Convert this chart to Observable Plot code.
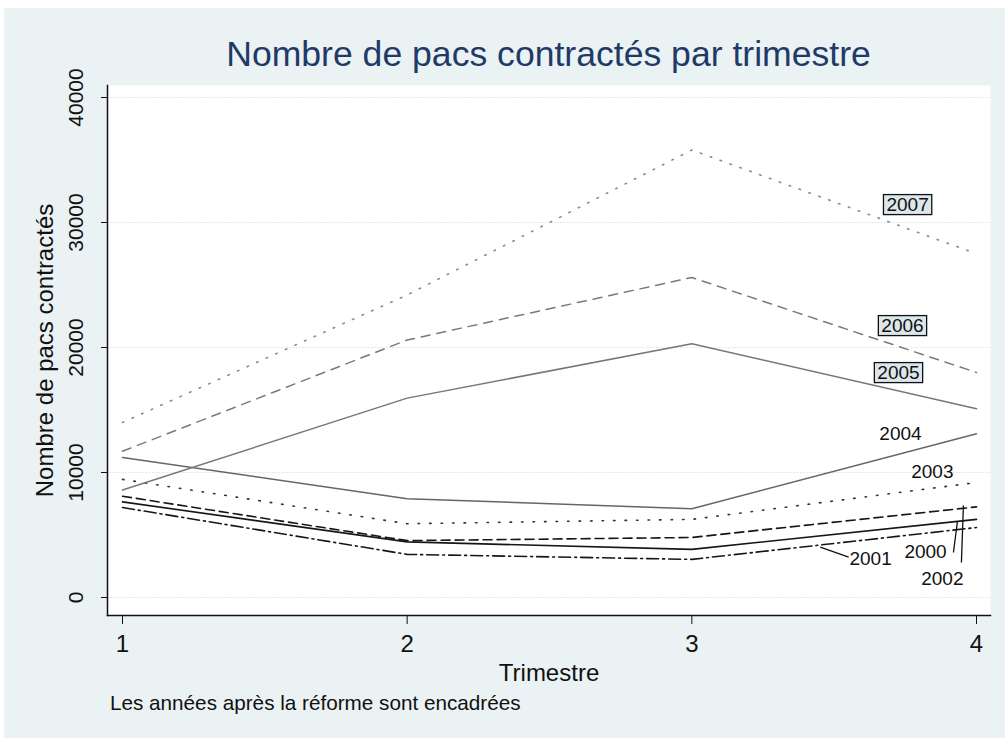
<!DOCTYPE html>
<html><head><meta charset="utf-8">
<script src="https://cdn.jsdelivr.net/npm/d3@7"></script>
<script src="https://cdn.jsdelivr.net/npm/@observablehq/plot@0.6"></script>
<style>
html,body{margin:0;padding:0;background:#fff;width:1005px;height:738px;overflow:hidden;font-family:"Liberation Sans",Arial,sans-serif;}
#bg{position:absolute;left:4px;top:8px;width:1001px;height:730px;background:#EAF2F3;}
#title{position:absolute;left:107px;top:37px;width:883px;text-align:center;font-size:35.6px;line-height:35px;color:#1F3A68;white-space:nowrap;}
#chart{position:absolute;left:0;top:68px;}
#caption{position:absolute;left:110px;top:691px;font-size:20.7px;line-height:24px;color:#111;white-space:nowrap;}
</style></head>
<body>
<div id="bg"></div>
<div id="title">Nombre de pacs contractés par trimestre</div>
<div id="chart"></div>
<div id="caption">Les années après la réforme sont encadrées</div>
<script>
// ---- data ----
const quarters = [1, 2, 3, 4];
const years = [2000, 2001, 2002, 2003, 2004, 2005, 2006, 2007];
const v2000 = [7650, 4450, 3850, 6250];
const v2001 = [7200, 3450, 3050, 5600];
const v2002 = [8100, 4550, 4800, 7250];
const v2003 = [9450, 5900, 6250, 9200];
const v2004 = [11200, 7900, 7100, 13100];
const v2005 = [8600, 15950, 20300, 15100];
const v2006 = [11700, 20600, 25600, 18000];
const v2007 = [14000, 24200, 35800, 27500];
const yTicks = [0, 10000, 20000, 30000, 40000];
const xTicks = [1, 2, 3, 4];
const yTickLabels = ["0", "10000", "20000", "30000", "40000"];
const xTickLabels = ["1", "2", "3", "4"];
// label annotations (data units)
const labelYears = ["2007", "2006", "2005", "2004", "2003", "2001", "2000", "2002"];
const labelQ = [3.758, 3.74, 3.726, 3.733, 3.845, 3.628, 3.821, 3.88];
const labelN = [31440, 21760, 18000, 13120, 10080, 3120, 3680, 1520];
const labelBoxed = [true, true, true, false, false, false, false, false];
// leader lines for 2001, 2000, 2002
const leaderQ1 = [3.551, 3.919, 3.947];
const leaderN1 = [3224, 3600, 2800];
const leaderQ2 = [3.451, 3.933, 3.954];
const leaderN2 = [4024, 6080, 7360];

const series = {2000: v2000, 2001: v2001, 2002: v2002, 2003: v2003, 2004: v2004, 2005: v2005, 2006: v2006, 2007: v2007};
const rows = years.flatMap(y => quarters.map((q, i) => ({year: y, q, n: series[y][i]})));

const styles = {
  2000: {stroke: "#161616", strokeWidth: 1.6, strokeDasharray: null},
  2001: {stroke: "#161616", strokeWidth: 1.6, strokeDasharray: "12,4,2,4"},
  2002: {stroke: "#161616", strokeWidth: 1.6, strokeDasharray: "9,5"},
  2003: {stroke: "#333333", strokeWidth: 1.6, strokeDasharray: "1.5,10"},
  2004: {stroke: "#666666", strokeWidth: 1.5, strokeDasharray: null},
  2005: {stroke: "#777777", strokeWidth: 1.5, strokeDasharray: null},
  2006: {stroke: "#7a7a7a", strokeWidth: 1.5, strokeDasharray: "9,7"},
  2007: {stroke: "#8a8a8a", strokeWidth: 1.6, strokeDasharray: "1.5,9"}
};

const labels = labelYears.map((t, i) => ({t, q: labelQ[i], n: labelN[i], boxed: labelBoxed[i]}));
const boxedSet = new Set(labels.filter(d => d.boxed).map(d => d.t));
const leaders = leaderQ1.map((q, i) => ({q1: q, n1: leaderN1[i], q2: leaderQ2[i], n2: leaderN2[i]}));
const font = "Liberation Sans, Arial, sans-serif";

const chart = Plot.plot({
  width: 1005, height: 620,
  marginLeft: 107, marginRight: 15, marginTop: 17, marginBottom: 73,
  style: {background: "transparent", fontFamily: font, overflow: "visible"},
  x: {domain: [1, 4], range: [122, 976]},
  y: {domain: [0, 40000], range: [529, 29]},
  marks: [
    Plot.frame({fill: "white", stroke: null}),
    Plot.gridY(yTicks, {stroke: "#d6e5e9", strokeOpacity: 1, strokeDasharray: "1.5,1.5"}),
    ...years.map(y => Plot.line(rows.filter(r => r.year === y), {x: "q", y: "n", ...styles[y], strokeLinejoin: "round"})),
    Plot.link(leaders, {x1: "q1", y1: "n1", x2: "q2", y2: "n2", stroke: "#111", strokeWidth: 1.3}),
    Plot.text(labels, {x: "q", y: "n", text: "t", fontSize: 19, fill: "#111"}),
    Plot.frame({anchor: "left", stroke: "#111", strokeWidth: 1.5}),
    Plot.frame({anchor: "bottom", stroke: "#111", strokeWidth: 1.5}),
    Plot.axisY({ticks: yTicks, tickSize: 6, tickFormat: () => "", label: null, stroke: "#111"}),
    Plot.axisX({ticks: xTicks, tickSize: 9, tickFormat: () => "", label: null, stroke: "#111"}),
    Plot.text(yTicks, {y: d => d, text: (d, i) => yTickLabels[i], frameAnchor: "left", dx: -31, rotate: -90, textAnchor: "middle", fontSize: 21, fill: "#111"}),
    Plot.text(xTicks, {x: d => d, text: (d, i) => xTickLabels[i], frameAnchor: "bottom", dy: 36, fontSize: 24, fill: "#111"}),
    Plot.text(["Nombre de pacs contractés"], {text: d => d, frameAnchor: "left", dx: -62, rotate: -90, textAnchor: "middle", fontSize: 24, fill: "#111"}),
    Plot.text(["Trimestre"], {text: d => d, frameAnchor: "bottom", dy: 65, fontSize: 24, fill: "#111"})
  ]
});
document.getElementById("chart").append(chart);

// boxes behind the labels of years after the reform
chart.querySelectorAll("text").forEach(t => {
  if (!boxedSet.has(t.textContent.trim())) return;
  const b = t.getBBox();
  const r = document.createElementNS("http://www.w3.org/2000/svg", "rect");
  r.setAttribute("x", b.x - 3);
  r.setAttribute("y", b.y + 1);
  r.setAttribute("width", b.width + 6);
  r.setAttribute("height", b.height - 1);
  r.setAttribute("fill", "#DCE7EC");
  r.setAttribute("stroke", "#111");
  r.setAttribute("stroke-width", "1.3");
  if (t.getAttribute("transform")) r.setAttribute("transform", t.getAttribute("transform"));
  t.parentNode.insertBefore(r, t);
});
</script>
</body></html>
